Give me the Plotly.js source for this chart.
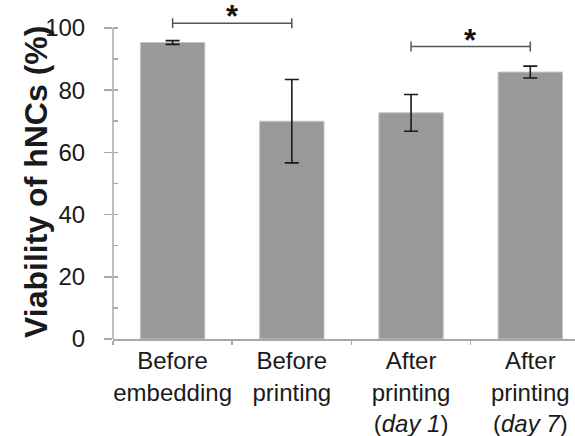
<!DOCTYPE html>
<html>
<head>
<meta charset="utf-8">
<script src="https://cdn.plot.ly/plotly-3.0.1.min.js"></script>
<style>html,body{margin:0;padding:0;background:#fff;}#chart{width:575px;height:436px;}</style>
</head>
<body>
<div id="chart"></div>
<script>
// Data
var categories = ['Before<br>embedding', 'Before<br>printing', 'After<br>printing<br>(<i>day 1</i>)', 'After<br>printing<br>(<i>day 7</i>)'];
var viability = [95.3, 70.0, 72.7, 85.8];
var errors = [0.6, 13.4, 5.9, 1.9];
var yTicks = [0, 20, 40, 60, 80, 100];
var minorTicks = [0, 10, 20, 30, 40, 50, 60, 70, 80, 90, 100];
// significance brackets (category index pairs) and their heights
var bracketStart = [0, 2];
var bracketEnd = [1, 3];
var bracketY = [101.5, 94.0];
var bracketLabel = ['*', '*'];
var yTitle = 'Viability of hNCs (%)';

var font = 'Liberation Sans, Arial, sans-serif';
var axisGrey = '#a8a8a8';

var shapes = [];
// y axis line from 0 to 100
shapes.push({type: 'line', xref: 'paper', yref: 'y', x0: 0, x1: 0, y0: yTicks[0], y1: yTicks[yTicks.length - 1],
  line: {color: axisGrey, width: 1.5}});
var annotations = [];
for (var i = 0; i < bracketStart.length; i++) {
  var ln = {color: '#555555', width: 1.5};
  shapes.push({type: 'line', xref: 'x', yref: 'y', x0: bracketStart[i], x1: bracketEnd[i], y0: bracketY[i], y1: bracketY[i], line: ln});
  shapes.push({type: 'line', xref: 'x', yref: 'y', x0: bracketStart[i], x1: bracketStart[i], y0: bracketY[i] - 1.6, y1: bracketY[i] + 1.6, line: ln});
  shapes.push({type: 'line', xref: 'x', yref: 'y', x0: bracketEnd[i], x1: bracketEnd[i], y0: bracketY[i] - 1.6, y1: bracketY[i] + 1.6, line: ln});
  annotations.push({xref: 'x', yref: 'y', x: (bracketStart[i] + bracketEnd[i]) / 2, y: bracketY[i],
    text: '<b>' + bracketLabel[i] + '</b>', showarrow: false, yanchor: 'bottom', yshift: -13,
    font: {family: font, size: 31, color: '#111'}});
}
// y-axis title placed as a rotated annotation so it can sit close to the tick labels
annotations.push({xref: 'paper', yref: 'paper', x: -0.167, y: 0.467, xanchor: 'center', yanchor: 'middle',
  text: '<b>' + yTitle + '</b>', textangle: -90, showarrow: false,
  font: {family: font, size: 32, color: '#1a1a1a'}});

var trace = {
  type: 'bar',
  x: categories,
  y: viability,
  width: 0.54,
  marker: {color: '#999999', line: {color: '#c4c4c4', width: 1}},
  error_y: {type: 'data', array: errors, visible: true, color: '#1a1a1a', thickness: 1.6, width: 7},
  hoverinfo: 'none'
};
// invisible trace to activate the overlaid axis carrying inner minor ticks
var dummy = {type: 'scatter', x: [categories[0]], y: [0], yaxis: 'y2', mode: 'markers', marker: {opacity: 0}, hoverinfo: 'none', showlegend: false};

var layout = {
  width: 575, height: 436,
  margin: {l: 113, r: 0, t: 3, b: 97},
  paper_bgcolor: '#ffffff', plot_bgcolor: '#ffffff',
  showlegend: false,
  font: {family: font, color: '#1a1a1a'},
  xaxis: {
    type: 'category',
    range: [-0.5, 3.375],
    tickson: 'boundaries',
    tickangle: 0,
    ticks: 'outside', ticklen: 4, tickwidth: 1.5, tickcolor: axisGrey,
    showline: true, linecolor: axisGrey, linewidth: 1.5,
    showgrid: false, zeroline: false,
    tickfont: {family: font, size: 24, color: '#1a1a1a'},
    fixedrange: true
  },
  yaxis: {
    range: [0, 108],
    tickvals: yTicks,
    ticktext: yTicks.map(String),
    ticks: 'outside', ticklen: 8, tickwidth: 1.5, tickcolor: axisGrey,
    showline: false, showgrid: false, zeroline: false,
    tickfont: {family: font, size: 24, color: '#1a1a1a'},
    ticklabelstandoff: 14,
    fixedrange: true
  },
  yaxis2: {
    overlaying: 'y', side: 'left', range: [0, 108],
    tickvals: minorTicks, ticks: 'inside', ticklen: 5, tickwidth: 1.5, tickcolor: axisGrey,
    showticklabels: false, showline: false, showgrid: false, zeroline: false, fixedrange: true
  },
  shapes: shapes,
  annotations: annotations,
  bargap: 0.46
};

Plotly.newPlot('chart', [trace, dummy], layout, {displayModeBar: false, staticPlot: true});
</script>
</body>
</html>
